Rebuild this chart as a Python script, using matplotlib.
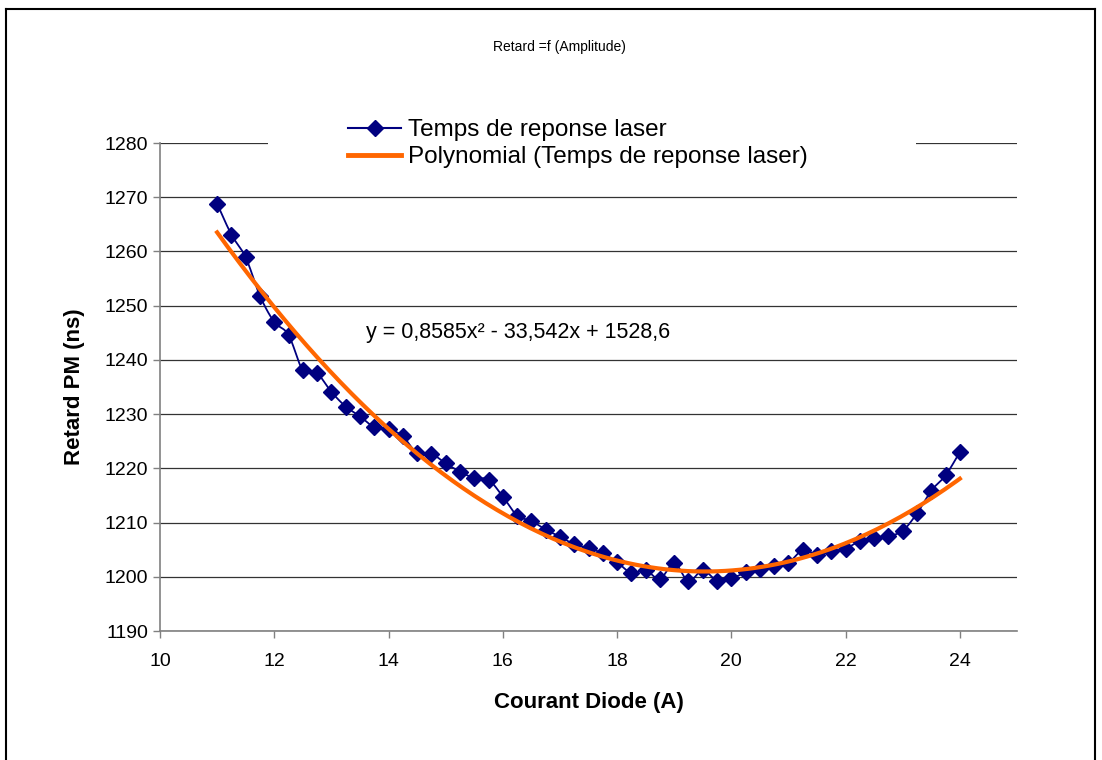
import matplotlib
matplotlib.use("Agg")
import matplotlib.pyplot as plt
from matplotlib.lines import Line2D
from matplotlib.patches import Rectangle
import numpy as np

plt.rcParams['font.family'] = ['Liberation Sans', 'DejaVu Sans']

# courant diode (A) and measured delay (ns)
courant = [11.0, 11.25, 11.5, 11.75, 12.0, 12.25, 12.5, 12.75, 13.0, 13.25,
           13.5, 13.75, 14.0, 14.25, 14.5, 14.75, 15.0, 15.25, 15.5, 15.75,
           16.0, 16.25, 16.5, 16.75, 17.0, 17.25, 17.5, 17.75, 18.0, 18.25,
           18.5, 18.75, 19.0, 19.25, 19.5, 19.75, 20.0, 20.25, 20.5, 20.75,
           21.0, 21.25, 21.5, 21.75, 22.0, 22.25, 22.5, 22.75, 23.0, 23.25,
           23.5, 23.75, 24.0]
retard = [1268.8, 1263.1, 1258.9, 1251.8, 1247.0, 1244.6, 1238.1, 1237.5, 1234.1, 1231.4,
          1229.6, 1227.6, 1227.3, 1225.9, 1222.8, 1222.7, 1220.9, 1219.4, 1218.2, 1217.9,
          1214.8, 1211.3, 1210.3, 1208.7, 1207.4, 1206.0, 1205.3, 1204.3, 1202.7, 1200.7,
          1201.2, 1199.6, 1202.5, 1199.2, 1201.2, 1199.3, 1199.7, 1200.8, 1201.5, 1202.0,
          1202.6, 1204.9, 1204.1, 1204.7, 1205.2, 1206.6, 1207.1, 1207.5, 1208.5, 1211.7,
          1215.9, 1218.7, 1223.0]

# trendline coefficients shown on the chart
coef = [0.8585, -33.542, 1528.6]
equation = "y = 0,8585x² - 33,542x + 1528,6"

x_ticks = [10, 12, 14, 16, 18, 20, 22, 24]
y_ticks = [1190, 1200, 1210, 1220, 1230, 1240, 1250, 1260, 1270, 1280]


def catmull_rom(x, y, n=12):
    # smooth curve through the points, like Excel's smoothed line
    x = np.asarray(x, float)
    y = np.asarray(y, float)
    px = np.concatenate([[2 * x[0] - x[1]], x, [2 * x[-1] - x[-2]]])
    py = np.concatenate([[2 * y[0] - y[1]], y, [2 * y[-1] - y[-2]]])
    t = np.linspace(0, 1, n, endpoint=False)
    xs, ys = [], []
    for i in range(1, len(px) - 2):
        for arr, out in ((px, xs), (py, ys)):
            p0, p1, p2, p3 = arr[i - 1], arr[i], arr[i + 1], arr[i + 2]
            out.extend(0.5 * (2 * p1 + (-p0 + p2) * t
                              + (2 * p0 - 5 * p1 + 4 * p2 - p3) * t ** 2
                              + (-p0 + 3 * p1 - 3 * p2 + p3) * t ** 3))
    xs.append(x[-1])
    ys.append(y[-1])
    return np.array(xs), np.array(ys)


fig = plt.figure(figsize=(11.02, 7.6), dpi=100)
ax = fig.add_axes([160 / 1102, 1 - 631 / 760, (1017 - 160) / 1102, (631 - 143) / 760])

sx, sy = catmull_rom(courant, retard)
ax.plot(sx, sy, color='#000080', lw=1.3, zorder=3)
ax.plot(courant, retard, linestyle='none', marker='D', markersize=8,
        color='#000080', zorder=4)

xf = np.linspace(courant[0], courant[-1], 200)
ax.plot(xf, np.polyval(coef, xf), color='#FF6600', lw=3, zorder=5)

ax.text(13.6, 1245, equation, fontsize=15.5, va='center', ha='left')

ax.set_xlim(10, 25)
ax.set_ylim(1190, 1280)
ax.set_xticks(x_ticks)
ax.set_yticks(y_ticks)
ax.tick_params(labelsize=14, length=5, width=1, color='#808080', pad=3.5)
ax.tick_params(axis='x', pad=11)
ax.grid(axis='y', color='#333333', lw=0.9)
ax.set_axisbelow(True)
for s in ('top', 'right'):
    ax.spines[s].set_visible(False)
for s in ('left', 'bottom'):
    ax.spines[s].set_color('#808080')
    ax.spines[s].set_linewidth(1.2)

ax.set_xlabel('Courant Diode (A)', fontsize=16, fontweight='bold', labelpad=16)
ax.set_ylabel('Retard PM (ns)', fontsize=16, fontweight='bold', labelpad=14)

fig.text(559 / 1102, 1 - 47 / 760, 'Retard =f (Amplitude)', fontsize=10, ha='center', va='center')

# white legend area hiding the top gridline
fig.add_artist(Rectangle((268 / 1102, 1 - 172 / 760), (916 - 268) / 1102, 60 / 760,
                         transform=fig.transFigure, facecolor='white',
                         edgecolor='none', zorder=2))
handles = [Line2D([], [], color='#000080', lw=1.5, marker='D', markersize=8),
           Line2D([], [], color='#FF6600', lw=3.5)]
labels = ['Temps de reponse laser', 'Polynomial (Temps de reponse laser)']
leg = fig.legend(handles, labels, loc='upper left', bbox_to_anchor=(348 / 1102, 1 - 119 / 760),
                 frameon=False, fontsize=17.5, handlelength=2.2, handletextpad=0.25,
                 labelspacing=0.22, borderpad=0, borderaxespad=0)
leg.set_zorder(3)

# outer frame of the chart area
for xs_, ys_ in (([6, 6], [760, 9]), ([6, 1095], [9, 9]), ([1095, 1095], [9, 760])):
    fig.add_artist(Line2D([v / 1102 for v in xs_], [1 - v / 760 for v in ys_],
                          transform=fig.transFigure, color='black', lw=1.5))

fig.savefig('out.png', dpi=100)
